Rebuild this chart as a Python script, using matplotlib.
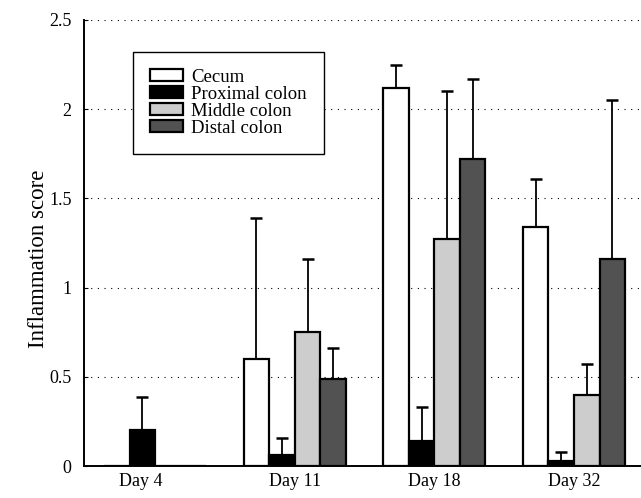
import numpy as np
import matplotlib
matplotlib.use("Agg")
import matplotlib.pyplot as plt

plt.rcParams['font.family'] = ['Liberation Serif', 'DejaVu Serif']

# datos
dias = ["Day 4", "Day 11", "Day 18", "Day 32"]
series = ["Cecum", "Proximal colon", "Middle colon", "Distal colon"]

cecum = [0.0, 0.60, 2.12, 1.34]
proximal = [0.20, 0.06, 0.14, 0.03]
middle = [0.0, 0.75, 1.27, 0.40]
distal = [0.0, 0.49, 1.72, 1.16]

# limite superior de la barra de error
cecum_sup = [0.0, 1.39, 2.25, 1.61]
proximal_sup = [0.39, 0.16, 0.33, 0.08]
middle_sup = [0.0, 1.16, 2.10, 0.57]
distal_sup = [0.0, 0.66, 2.17, 2.05]

valores = [cecum, proximal, middle, distal]
superiores = [cecum_sup, proximal_sup, middle_sup, distal_sup]
colores = ["white", "black", "#cdcdcd", "#525252"]

fig = plt.figure(figsize=(6.41, 4.98), dpi=100)
ax = fig.add_axes([0.131, 0.064, 0.869, 0.896])

x = np.arange(len(dias))
ancho = 0.183

for i, (vals, sup, col, nombre) in enumerate(zip(valores, superiores, colores, series)):
    pos = x + (i - 1.5) * ancho
    vals = np.array(vals)
    err = np.clip(np.array(sup) - vals, 0, None)
    ax.bar(pos, vals, width=ancho, color=col, edgecolor="black", linewidth=1.6,
           label=nombre, zorder=3)
    mask = err > 0
    ax.errorbar(pos[mask], vals[mask], yerr=[np.zeros(mask.sum()), err[mask]],
                fmt="none", ecolor="black", elinewidth=1.3, capsize=4.3, capthick=1.8, zorder=2)

ax.set_xlim(-0.51, 3.48)
ax.set_ylim(0, 2.5)
ax.set_yticks([0, 0.5, 1, 1.5, 2, 2.5])
ax.set_yticklabels(["0", "0.5", "1", "1.5", "2", "2.5"])

# la etiqueta del dia 4 esta corrida a la izquierda en el original
pos_ticks = x.astype(float)
pos_ticks[0] -= 0.1
ax.set_xticks(pos_ticks)
ax.set_xticklabels(dias)
ax.tick_params(axis="x", length=0, labelsize=13, pad=5)
ax.tick_params(axis="y", direction="in", length=3, labelsize=13, pad=9)

ax.yaxis.grid(True, linestyle=(0, (1, 5)), color="black", linewidth=0.8, zorder=0)
ax.set_axisbelow(True)

ax.spines["top"].set_visible(False)
ax.spines["right"].set_visible(False)
ax.spines["left"].set_linewidth(1.4)
ax.spines["bottom"].set_linewidth(1.4)

ax.set_ylabel("Inflammation score", fontsize=16.5)
ax.yaxis.set_label_coords(-0.062, 0.465)

leg = ax.legend(loc="upper left", bbox_to_anchor=(0.088, 0.928), borderaxespad=0,
                fontsize=13.5, frameon=True, fancybox=False, edgecolor="black",
                framealpha=1, handlelength=1.75, handleheight=0.6, borderpad=0.9,
                labelspacing=0.0, handletextpad=0.45)
leg.get_frame().set_linewidth(1.0)

fig.savefig("out.png", dpi=100)
